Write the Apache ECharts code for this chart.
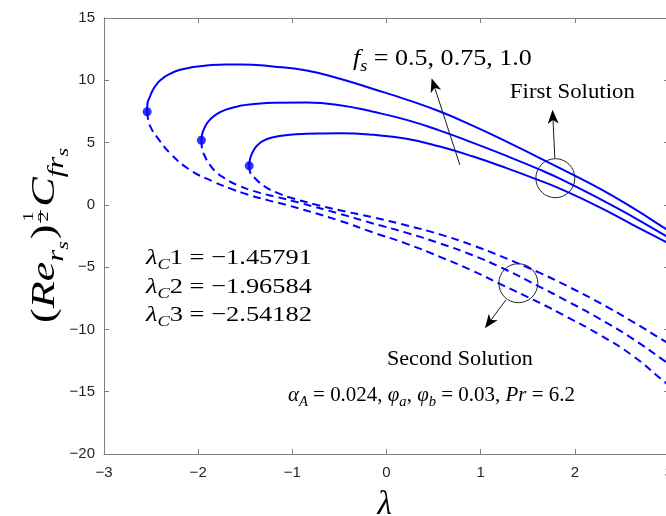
<!DOCTYPE html>
<html>
<head>
<meta charset="utf-8">
<script src="https://cdn.jsdelivr.net/npm/echarts@6/dist/echarts.min.js"></script>
<style>
  html, body { margin: 0; padding: 0; overflow: hidden; background: #ffffff; }
  #chart { width: 680px; height: 516px; }
</style>
</head>
<body>
<div id="chart"></div>
<script>
// Skin friction (Re)^1/2 Cf versus the mixed-convection parameter lambda
// for three values of f_s; upper (first) and lower (second) branches meet at lambda_C.

const xTicks = [-3, -2, -1, 0, 1, 2, 3];
const yTicks = [-20, -15, -10, -5, 0, 5, 10, 15];

const fsValues = ['0.5', '0.75', '1.0'];
const lambdaC = [-1.45791, -1.96584, -2.54182];
const cfAtC = [3.13, 5.19, 7.47];

// first solution branches (solid)
const first05 = [[-1.45791, 3.13], [-1.447, 3.75], [-1.418, 4.28], [-1.376, 4.74], [-1.306, 5.16],
  [-1.203, 5.43], [-1.025, 5.62], [-0.848, 5.70], [-0.671, 5.73], [-0.495, 5.74], [-0.141, 5.62],
  [0.213, 5.30], [0.567, 4.68], [0.920, 3.88], [1.275, 2.95], [1.628, 1.95], [1.841, 1.30],
  [2.265, -0.20], [2.616, -1.60], [2.966, -2.97], [3.0, -3.1]];
const first075 = [[-1.96584, 5.19], [-1.955, 5.76], [-1.923, 6.34], [-1.870, 6.88], [-1.799, 7.31],
  [-1.693, 7.68], [-1.556, 7.95], [-1.379, 8.11], [-1.203, 8.19], [-0.848, 8.21], [-0.495, 8.0],
  [-0.141, 7.47], [0.213, 6.82], [0.567, 5.96], [0.920, 4.98], [1.275, 3.93], [1.628, 2.83],
  [1.841, 2.10], [2.265, 0.48], [2.616, -0.96], [2.966, -2.49], [3.0, -2.65]];
const first10 = [[-2.54182, 7.47], [-2.540, 8.03], [-2.512, 8.69], [-2.459, 9.50], [-2.388, 10.09],
  [-2.300, 10.52], [-2.193, 10.84], [-2.052, 11.06], [-1.910, 11.19], [-1.698, 11.27], [-1.556, 11.27],
  [-1.206, 11.11], [-0.848, 10.78], [-0.495, 10.12], [-0.141, 9.30], [0.213, 8.45], [0.567, 7.49],
  [0.920, 6.34], [1.275, 5.08], [1.628, 3.75], [1.841, 2.95], [2.265, 1.30], [2.616, -0.25],
  [2.966, -1.93], [3.0, -2.1]];

// second solution branches (dashed)
const second05 = [[-1.45791, 3.13], [-1.450, 2.67], [-1.386, 2.06], [-1.291, 1.47], [-1.167, 0.99],
  [-1.025, 0.59], [-0.760, 0.04], [-0.495, -0.44], [-0.144, -1.00], [0.217, -1.65], [0.567, -2.37],
  [0.917, -3.25], [1.204, -4.09], [1.628, -5.46], [1.915, -6.50], [2.265, -7.87], [2.616, -9.39],
  [2.966, -11.0], [3.0, -11.16]];
const second075 = [[-1.96584, 5.19], [-1.960, 4.58], [-1.928, 3.88], [-1.875, 3.21], [-1.811, 2.65],
  [-1.726, 2.17], [-1.591, 1.61], [-1.379, 1.04], [-1.167, 0.64], [-0.920, 0.16], [-0.495, -0.72],
  [-0.144, -1.49], [0.217, -2.25], [0.567, -3.09], [0.917, -4.05], [1.204, -4.98], [1.628, -6.58],
  [1.915, -7.71], [2.265, -9.15], [2.616, -10.76], [2.966, -12.60], [3.0, -12.80]];
const second10 = [[-2.54182, 7.47], [-2.530, 6.82], [-2.501, 6.18], [-2.441, 5.48], [-2.299, 4.15],
  [-2.087, 2.81], [-1.840, 1.87], [-1.662, 1.32], [-1.521, 0.94], [-1.273, 0.40], [-1.025, -0.08],
  [-0.495, -1.28], [-0.144, -2.21], [0.217, -3.13], [0.567, -4.17], [0.917, -5.30], [1.204, -6.34],
  [1.628, -7.87], [1.915, -8.99], [2.265, -10.44], [2.616, -12.12], [2.966, -14.29], [3.0, -14.45]];

const firstBranches = [first05, first075, first10];
const secondBranches = [second05, second075, second10];

const BLUE = '#0000ff';
const AXIS = '#808080';
const TICKTXT = '#262626';
const SANS = '"Liberation Sans", Arial, sans-serif';
const SERIF = '"Liberation Serif", "DejaVu Serif", serif';

const fmt = v => (v < 0 ? '\u2212' + Math.abs(v) : String(v));

const chart = echarts.init(document.getElementById('chart'), null, { renderer: 'canvas' });

const tickStyle = { show: true, inside: true, length: 5, lineStyle: { color: AXIS, width: 1 } };
const lineStyleAxis = { show: true, onZero: false, lineStyle: { color: AXIS, width: 1 } };

const series = [];
firstBranches.forEach((d, i) => {
  series.push({
    name: 'first f_s=' + fsValues[i], type: 'line', data: d, smooth: 0.5,
    showSymbol: false, lineStyle: { color: BLUE, width: 2 }, z: 3
  });
});
secondBranches.forEach((d, i) => {
  series.push({
    name: 'second f_s=' + fsValues[i], type: 'line', data: d, smooth: 0.5,
    showSymbol: false, lineStyle: { color: BLUE, width: 2, type: [8, 5] }, z: 3
  });
});
series.push({
  name: 'critical', type: 'scatter', data: lambdaC.map((x, i) => [x, cfAtC[i]]),
  symbol: 'circle', symbolSize: 9, itemStyle: { color: BLUE }, z: 4
});

chart.setOption({
  animation: false,
  backgroundColor: '#ffffff',
  grid: { left: 104, top: 18, right: 11, bottom: 62, containLabel: false },
  xAxis: [
    {
      type: 'value', min: xTicks[0], max: xTicks[xTicks.length - 1], interval: 1, position: 'bottom',
      axisLine: lineStyleAxis, axisTick: tickStyle, splitLine: { show: false },
      axisLabel: { color: TICKTXT, fontSize: 15, fontFamily: SANS, margin: 11, formatter: fmt }
    },
    {
      type: 'value', min: xTicks[0], max: xTicks[xTicks.length - 1], interval: 1, position: 'top',
      axisLine: lineStyleAxis, axisTick: tickStyle, splitLine: { show: false }, axisLabel: { show: false }
    }
  ],
  yAxis: [
    {
      type: 'value', min: yTicks[0], max: yTicks[yTicks.length - 1], interval: 5, position: 'left',
      axisLine: lineStyleAxis, axisTick: tickStyle, splitLine: { show: false },
      axisLabel: { color: TICKTXT, fontSize: 15, fontFamily: SANS, margin: 9, formatter: fmt }
    },
    {
      type: 'value', min: yTicks[0], max: yTicks[yTicks.length - 1], interval: 5, position: 'right',
      axisLine: lineStyleAxis, axisTick: tickStyle, splitLine: { show: false }, axisLabel: { show: false }
    }
  ],
  series: series
});

// ---- math-style text built from runs of plain / italic / sub / superscript pieces ----
const measure = document.createElement('canvas').getContext('2d');
function buildRuns(segs, size) {
  let cx = 0;
  const kids = [];
  segs.forEach(s => {
    cx += (s.pre || 0) * size;
    if (s.frac) {
      const fs = size * s.scale;
      const font = fs + 'px ' + SERIF;
      measure.font = font;
      const wn = measure.measureText(s.frac[0]).width, wd = measure.measureText(s.frac[1]).width;
      const w = Math.max(wn, wd) + 2;
      kids.push({ type: 'text', x: cx + (w - wn) / 2, y: s.num * size - 0.34 * fs,
        style: { text: s.frac[0], font: font, fill: '#000', align: 'left', verticalAlign: 'middle' } });
      kids.push({ type: 'text', x: cx + (w - wd) / 2, y: s.den * size - 0.34 * fs,
        style: { text: s.frac[1], font: font, fill: '#000', align: 'left', verticalAlign: 'middle' } });
      kids.push({ type: 'rect', shape: { x: cx, y: s.bar * size, width: w, height: 1 }, style: { fill: '#000' } });
      cx += w + (s.post || 0) * size;
      return;
    }
    const fs = size * (s.scale || 1);
    const font = (s.it ? 'italic ' : '') + fs + 'px ' + SERIF;
    measure.font = font;
    kids.push({ type: 'text', x: cx, y: (s.dy || 0) * size - 0.34 * fs,
      style: { text: s.t, font: font, fill: '#000', align: 'left', verticalAlign: 'middle' } });
    cx += measure.measureText(s.t).width + (s.post || 0) * size;
  });
  return { kids, width: cx };
}
function mathLabel(segs, size, x, y, width, rotation) {
  const r = buildRuns(segs, size);
  return { type: 'group', x: x, y: y, rotation: rotation || 0,
    scaleX: width ? width / r.width : 1, children: r.kids, silent: true };
}

function arrow(p0, p1, headLen, headHalf) {
  const dx = p1[0] - p0[0], dy = p1[1] - p0[1];
  const L = Math.sqrt(dx * dx + dy * dy);
  const ux = dx / L, uy = dy / L, nx = -uy, ny = ux;
  const bx = p1[0] - ux * headLen, by = p1[1] - uy * headLen;
  const notch = [p1[0] - ux * headLen * 0.72, p1[1] - uy * headLen * 0.72];
  return [
    { type: 'line', shape: { x1: p0[0], y1: p0[1], x2: notch[0], y2: notch[1] },
      style: { stroke: '#1a1a1a', lineWidth: 1 }, silent: true },
    { type: 'polygon', shape: { points: [p1, [bx + nx * headHalf, by + ny * headHalf], notch,
      [bx - nx * headHalf, by - ny * headHalf]] }, style: { fill: '#000' }, silent: true }
  ];
}

function drawNotes() {
  const P = v => chart.convertToPixel({ xAxisIndex: 0, yAxisIndex: 0 }, v);
  const g = [];
  const bottomLeft = P([xTicks[0], yTicks[0]]);
  const topRight = P([xTicks[xTicks.length - 1], yTicks[yTicks.length - 1]]);
  const midY = (bottomLeft[1] + topRight[1]) / 2;

  // axis titles
  g.push(mathLabel([{ t: '\u03bb', it: true }], 33, P([0, 0])[0] - 9, bottomLeft[1] + 63));
  g.push(mathLabel([
    { t: '(' }, { t: 'Re', it: true },
    { t: 'r', it: true, scale: 0.7, dy: 0.22 }, { t: 's', it: true, scale: 0.5, dy: 0.36, post: 0.04 },
    { t: ')' },
    { frac: ['1', '2'], scale: 0.45, num: -0.66, den: -0.24, bar: -0.5, pre: 0.04, post: 0.08 },
    { t: 'C', it: true },
    { t: 'fr', it: true, scale: 0.7, dy: 0.22 }, { t: 's', it: true, scale: 0.5, dy: 0.36 }
  ], 34, bottomLeft[0] - 47, midY + 87, 175, Math.PI / 2));

  // f_s label and arrow
  const a = P([-0.357, 11.08]);
  g.push(mathLabel([
    { t: 'f', it: true }, { t: 's', it: true, scale: 0.7, dy: 0.22 },
    { t: ' = ' }, { t: '0.5, 0.75, 1.0' }
  ], 23, a[0], a[1], 179));
  g.push(...arrow(P([0.779, 3.21]), P([0.479, 10.17]), 14, 5.5));

  // first solution
  const fsol = P([1.310, 8.47]);
  g.push(mathLabel([{ t: 'First Solution' }], 21, fsol[0], fsol[1], 125));
  const c1 = P([1.793, 2.14]);
  g.push({ type: 'circle', shape: { cx: c1[0], cy: c1[1], r: 19.5 },
    style: { fill: null, stroke: '#262626', lineWidth: 1 }, silent: true });
  g.push(...arrow(P([1.788, 3.75]), P([1.763, 7.63]), 14, 5.5));

  // second solution
  const c2 = P([1.400, -6.29]);
  g.push({ type: 'circle', shape: { cx: c2[0], cy: c2[1], r: 19.5 },
    style: { fill: null, stroke: '#262626', lineWidth: 1 }, silent: true });
  g.push(...arrow(P([1.268, -7.63]), P([1.045, -9.90]), 14, 5.5));
  const ssol = P([0.004, -12.96]);
  g.push(mathLabel([{ t: 'Second Solution' }], 21, ssol[0], ssol[1], 146));

  // critical values
  const critY = [-4.90, -7.22, -9.47];
  lambdaC.forEach((v, i) => {
    const p = P([-2.554, critY[i]]);
    g.push(mathLabel([
      { t: '\u03bb', it: true }, { t: 'C', it: true, scale: 0.7, dy: 0.2 },
      { t: String(i + 1) }, { t: ' = \u2212' + Math.abs(v).toFixed(5) }
    ], 22, p[0], p[1], 166));
  });

  // parameter line
  const q = P([-1.047, -15.92]);
  g.push(mathLabel([
    { t: '\u03b1', it: true }, { t: 'A', it: true, scale: 0.7, dy: 0.2 },
    { t: ' = 0.024, ' },
    { t: '\u03c6', it: true }, { t: 'a', it: true, scale: 0.7, dy: 0.2 }, { t: ', ' },
    { t: '\u03c6', it: true }, { t: 'b', it: true, scale: 0.7, dy: 0.2 },
    { t: ' = 0.03, ' }, { t: 'Pr', it: true }, { t: ' = 6.2' }
  ], 22, q[0], q[1], 287));

  chart.setOption({ graphic: { elements: g } });
}
drawNotes();
</script>
</body>
</html>
